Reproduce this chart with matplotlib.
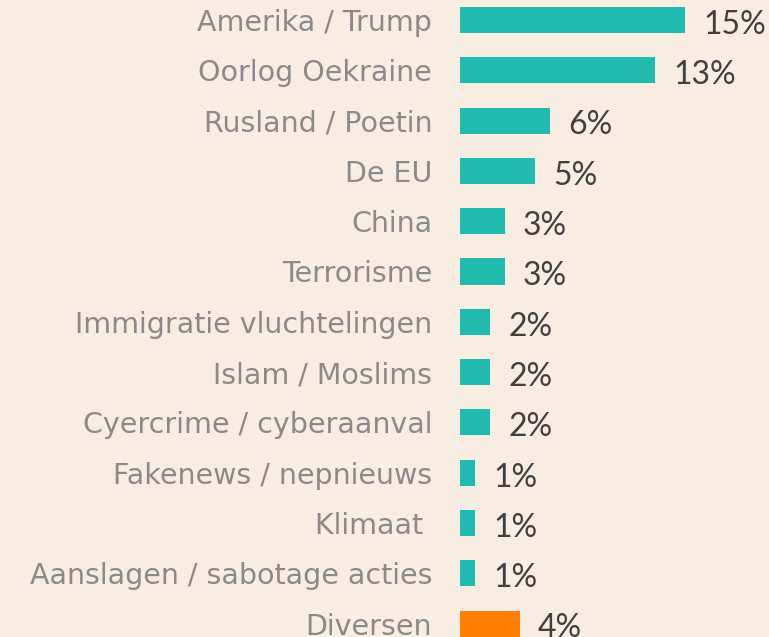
import matplotlib
matplotlib.use("Agg")
import matplotlib.pyplot as plt

categories = ["Amerika / Trump", "Oorlog Oekraine", "Rusland / Poetin", "De EU", "China",
              "Terrorisme", "Immigratie vluchtelingen", "Islam / Moslims",
              "Cyercrime / cyberaanval", "Fakenews / nepnieuws", "Klimaat ",
              "Aanslagen / sabotage acties", "Diversen"]
values = [15, 13, 6, 5, 3, 3, 2, 2, 2, 1, 1, 1, 4]
value_labels = ["15%", "13%", "6%", "5%", "3%", "3%", "2%", "2%", "2%", "1%", "1%", "1%", "4%"]

bg = "#F7EDE3"
teal = "#20BBAE"
orange = "#FF7F00"
colors = [teal] * 12 + [orange]

plt.rcParams["font.family"] = ["DejaVu Sans"]
fig = plt.figure(figsize=(7.69, 6.37), dpi=100, facecolor=bg)
ax = fig.add_axes([460/769, 0, 1 - 460/769, 1])
ax.set_facecolor(bg)

ypos = list(range(len(categories)))
bars = ax.barh(ypos, values, height=0.52, color=colors)
ax.set_xlim(0, (769 - 460) / 15)
ax.set_ylim((637 - 20) / 50.3, -20 / 50.3)
ax.set_yticks(ypos)
ax.set_yticklabels(categories, fontsize=20.5, color="#8a8a8a")
ax.tick_params(axis="y", length=0, pad=20)
ax.set_xticks([])
for s in ax.spines.values():
    s.set_visible(False)
for y, v, lab in zip(ypos, values, value_labels):
    ax.annotate(lab, (v, y), xytext=(13, -3.5), textcoords="offset points",
                ha="left", va="center", fontsize=23, color="#404040",
                family=["Lato", "DejaVu Sans"], annotation_clip=False)

fig.savefig("out.png", dpi=100, facecolor=bg)
